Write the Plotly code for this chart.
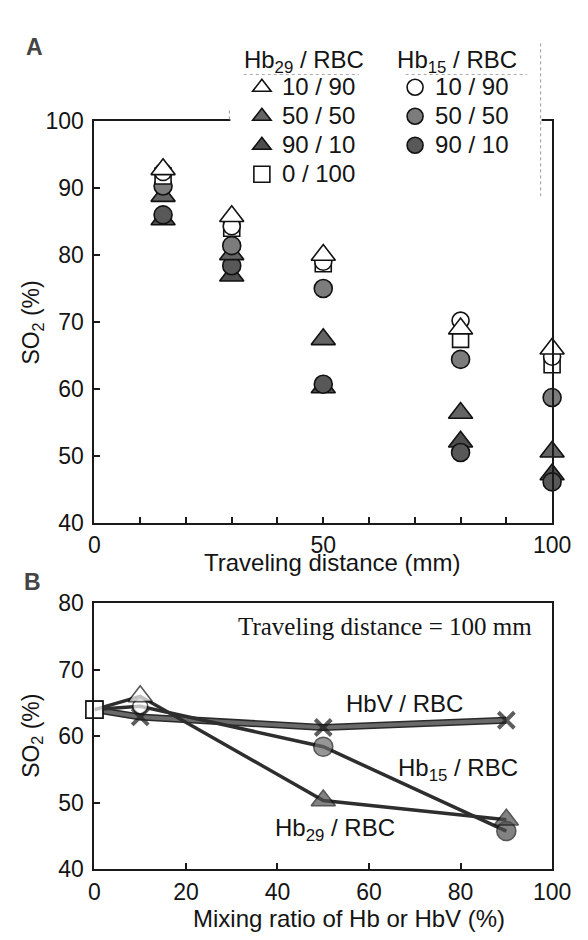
import plotly.graph_objects as go

# ---------------- Panel A data ----------------
distance_mm = [15, 30, 50, 80, 100]
hb29_10_90 = [92.8, 85.8, 80.0, 69.0, 66.0]
hb29_50_50 = [88.8, 80.1, 67.4, 56.4, 50.6]
hb29_90_10 = [85.3, 76.9, 60.2, 52.1, 47.2]
rbc_0_100 = [91.8, 84.0, 78.7, 67.4, 63.6]
hb15_10_90 = [92.4, 84.3, 79.0, 70.2, 64.8]
hb15_50_50 = [90.3, 81.4, 75.0, 64.4, 58.7]
hb15_90_10 = [86.0, 78.4, 60.7, 50.5, 46.1]

xa_tickvals = [0, 10, 20, 30, 40, 50, 60, 70, 80, 90, 100]
xa_ticktext = ["0", " ", " ", " ", " ", "50", " ", " ", " ", " ", "100"]

# ---------------- Panel B data ----------------
mixing_ratio = [0, 10, 50, 90]
hbv_rbc = [64.0, 62.9, 61.3, 62.4]
hb15_rbc = [64.0, 64.5, 58.4, 45.7]
hb29_rbc = [64.0, 66.0, 50.3, 47.4]

FONT = "Liberation Sans, Arial, Helvetica, sans-serif"
SERIF = "Liberation Serif, Times New Roman, serif"
INK = "#141414"
GRAY = "#7c7c7c"
DARK = "#4e4e4e"
W, H = 588, 940


def px(x):
    return x / W


def py(y):
    return 1 - y / H


fig = go.Figure()


def leg(t):
    return '<span style="font-size:24px">%s</span>' % t


# Panel A traces (drawn dark -> light so open markers stay on top)
specs = [
    ("90 / 10", hb29_90_10, "triangle-up", DARK, 21, "legend", 3),
    ("90 / 10", hb15_90_10, "circle", "#585858", 18, "legend2", 3),
    ("50 / 50", hb29_50_50, "triangle-up", "#646464", 21, "legend", 2),
    ("50 / 50", hb15_50_50, "circle", GRAY, 18, "legend2", 2),
    ("0 / 100", rbc_0_100, "square", "white", 16, "legend", 4),
    ("10 / 90", hb15_10_90, "circle", "white", 17, "legend2", 1),
    ("10 / 90", hb29_10_90, "triangle-up", "white", 21, "legend", 1),
]
for name, vals, sym, col, size, lg, rank in specs:
    fig.add_trace(go.Scatter(
        x=distance_mm, y=vals, mode="markers", name=leg(name),
        marker=dict(symbol=sym, color=col, size=size,
                    line=dict(color="#111", width=1.6)),
        cliponaxis=False, legend=lg, legendrank=rank,
        xaxis="x", yaxis="y",
    ))

# Panel B traces
fig.add_trace(go.Scatter(
    x=mixing_ratio, y=hbv_rbc, mode="lines", showlegend=False,
    line=dict(color="#2a2a2a", width=7),
    cliponaxis=False, xaxis="x2", yaxis="y2", hoverinfo="skip",
))
fig.add_trace(go.Scatter(
    x=mixing_ratio, y=hbv_rbc, mode="lines+markers", showlegend=False,
    line=dict(color="#6a6a6a", width=4),
    marker=dict(symbol=["square", "x-thin", "x-thin", "x-thin"],
                size=[17, 16, 16, 16], color=["white", INK, INK, INK],
                line=dict(color="#1a1a1a", width=[1.6, 4, 4, 4])),
    cliponaxis=False, xaxis="x2", yaxis="y2",
))
fig.add_trace(go.Scatter(
    x=mixing_ratio, y=hb15_rbc, mode="lines+markers", showlegend=False,
    line=dict(color="#2e2e2e", width=3.5),
    marker=dict(symbol=["square", "circle", "circle", "circle"],
                size=[17, 15, 19, 19], color=["white", "white", "#6a6a6a", DARK],
                line=dict(color="#111", width=1.6)),
    cliponaxis=False, xaxis="x2", yaxis="y2",
))
fig.add_trace(go.Scatter(
    x=mixing_ratio, y=hb29_rbc, mode="lines+markers", showlegend=False,
    line=dict(color="#2e2e2e", width=3.5),
    marker=dict(symbol=["square", "triangle-up", "triangle-up", "triangle-up"],
                size=[17, 21, 21, 21], color=["white", "white", DARK, DARK],
                line=dict(color="#111", width=1.6)),
    cliponaxis=False, xaxis="x2", yaxis="y2",
))

axis_common = dict(
    showline=True, linecolor="#1a1a1a", linewidth=2, mirror=True,
    ticks="inside", ticklen=6, tickwidth=1.5, tickcolor="#1a1a1a",
    showgrid=False, zeroline=False,
    tickfont=dict(family=FONT, size=23, color=INK),
)

fig.update_layout(
    width=W, height=H, margin=dict(l=0, r=0, t=0, b=0),
    paper_bgcolor="white", plot_bgcolor="white",
    font=dict(family=FONT, color=INK),
    xaxis=dict(domain=[px(84), px(562)], range=[0, 100], anchor="y",
               tickmode="array", tickvals=xa_tickvals, ticktext=xa_ticktext,
               ticklabelstandoff=1, **axis_common),
    yaxis=dict(domain=[py(516), py(103)], range=[40, 100], anchor="x",
               dtick=10, ticklabelstandoff=4, **axis_common),
    xaxis2=dict(domain=[px(84), px(562)], range=[0, 100], anchor="y2",
                dtick=20, ticklabelstandoff=2, **axis_common),
    yaxis2=dict(domain=[py(872), py(599)], range=[40, 80], anchor="x2",
                dtick=10, ticklabelstandoff=4, **axis_common),
    legend=dict(x=px(238), y=py(16), xanchor="left", yanchor="top",
                bgcolor="rgba(0,0,0,0)", borderwidth=0,
                font=dict(family=FONT, size=20, color=INK),
                title=dict(text="Hb<sub>29</sub> / RBC",
                           font=dict(family=FONT, size=24, color=INK)),
                traceorder="normal", itemwidth=30),
    legend2=dict(x=px(398), y=py(16), xanchor="left", yanchor="top",
                 bgcolor="rgba(0,0,0,0)", borderwidth=0,
                 font=dict(family=FONT, size=20, color=INK),
                 title=dict(text="Hb<sub>15</sub> / RBC",
                            font=dict(family=FONT, size=24, color=INK)),
                 traceorder="normal", itemwidth=30),
)

shapes = [
    dict(type="rect", xref="paper", yref="paper", x0=px(226), x1=px(551),
         y0=py(112), y1=py(94), fillcolor="white", line=dict(width=0),
         layer="above"),
    dict(type="line", xref="paper", yref="paper", x0=px(550), x1=px(550),
         y0=py(23), y1=py(180), line=dict(color="#999", width=1, dash="dot"),
         layer="above"),
    dict(type="line", xref="paper", yref="paper", x0=px(225), x1=px(225),
         y0=py(92), y1=py(103), line=dict(color="#999", width=1, dash="dot"),
         layer="above"),
    dict(type="line", xref="paper", yref="paper", x0=px(240), x1=px(360),
         y0=py(55), y1=py(55), line=dict(color="#aaa", width=1, dash="dot"),
         layer="above"),
    dict(type="line", xref="paper", yref="paper", x0=px(409), x1=px(536),
         y0=py(55), y1=py(55), line=dict(color="#aaa", width=1, dash="dot"),
         layer="above"),
]

ann = [
    dict(text="<b>A</b>", x=px(10), y=py(27), xanchor="left", yanchor="middle",
         font=dict(family=FONT, size=23, color="#444")),
    dict(text="<b>B</b>", x=px(8), y=py(577), xanchor="left", yanchor="middle",
         font=dict(family=FONT, size=23, color="#444")),
    dict(text="Traveling distance (mm)", x=px(333), y=py(557),
         xanchor="center", yanchor="middle", font=dict(size=24)),
    dict(text="Mixing ratio of Hb or HbV (%)", x=px(350), y=py(923),
         xanchor="center", yanchor="middle", font=dict(size=24)),
    dict(text="SO<sub>2</sub> (%)", x=px(19), y=py(310), textangle=-90,
         xanchor="center", yanchor="middle", font=dict(size=23)),
    dict(text="SO<sub>2</sub> (%)", x=px(19), y=py(735), textangle=-90,
         xanchor="center", yanchor="middle", font=dict(size=23)),
]
for a in ann:
    a.update(xref="paper", yref="paper", showarrow=False)

ann_b = [
    dict(text="Traveling distance = 100 mm", x=63.5, y=76.5,
         font=dict(family=SERIF, size=25, color=INK)),
    dict(text="HbV / RBC", x=67.8, y=64.9, font=dict(size=24)),
    dict(text="Hb<sub>15</sub> / RBC", x=79.5, y=55.0, font=dict(size=24)),
    dict(text="Hb<sub>29</sub> / RBC", x=52.5, y=45.9, font=dict(size=24)),
]
for a in ann_b:
    a.update(xref="x2", yref="y2", showarrow=False, xanchor="center",
             yanchor="middle")

fig.update_layout(shapes=shapes, annotations=ann + ann_b)
fig.write_html("out.html")
